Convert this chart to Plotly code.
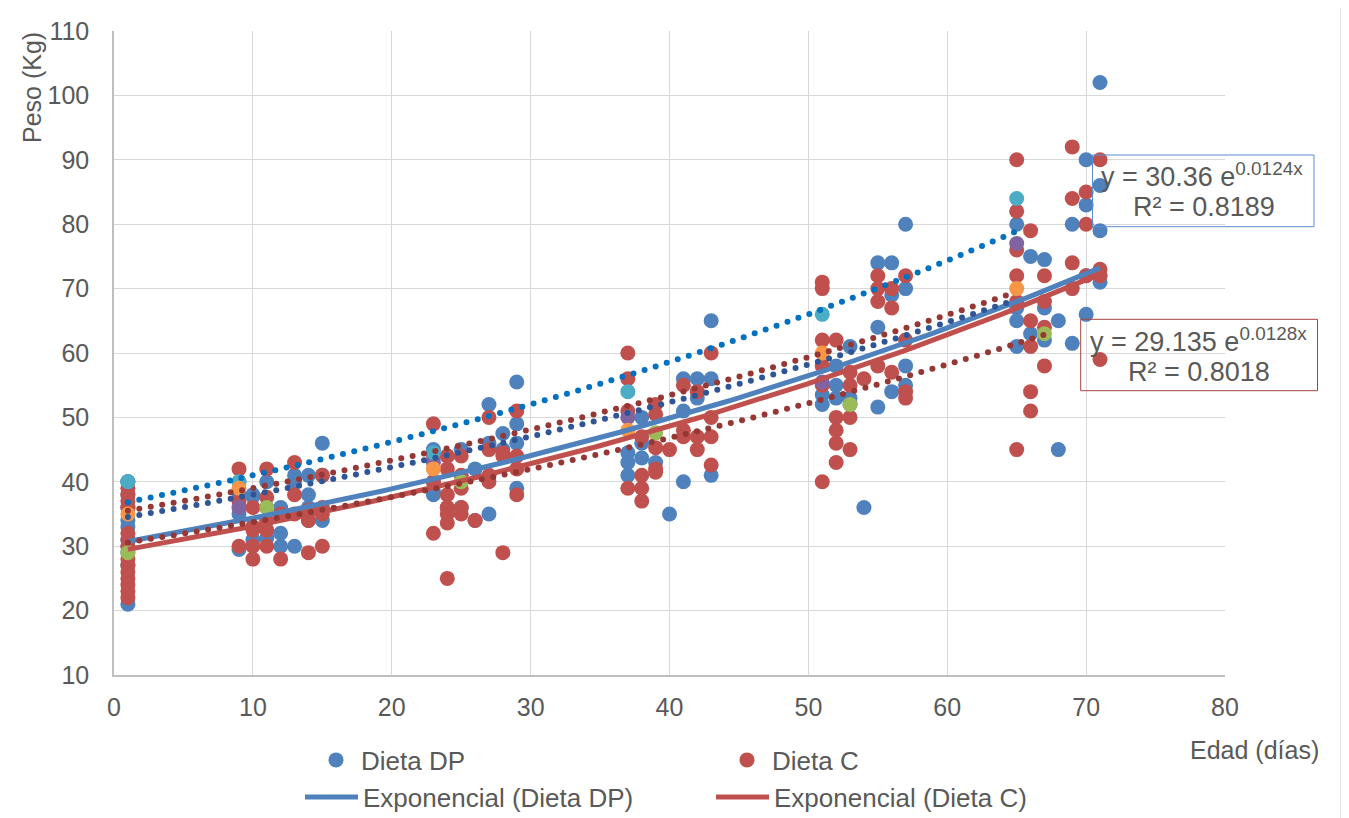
import numpy as np
import plotly.graph_objects as go

# ---------------- data ----------------
days = [1, 9, 10, 11, 12, 13, 14, 15, 23, 24, 25, 26, 27, 28, 29,
        37, 38, 39, 40, 41, 42, 43, 51, 52, 53, 54, 55, 56, 57,
        65, 66, 67, 68, 69, 70, 71]

dieta_dp = [
    [40, 38, 36, 34, 33, 31, 30, 29, 27, 21],
    [40, 38, 35, 29.5],
    [38, 37.7, 33, 31],
    [40, 36, 34, 31.3],
    [36, 32, 30],
    [41, 40, 30],
    [41, 38, 36, 34],
    [46, 41, 34],
    [45, 40, 38.5, 38],
    [44, 36],
    [45, 36],
    [42, 34],
    [52, 46, 35],
    [47.5, 45],
    [55.5, 49, 46, 39],
    [44.5, 43, 41],
    [50, 46, 43.7],
    [43],
    [35],
    [56, 51, 40],
    [56, 53],
    [65, 56, 41],
    [53.5, 52],
    [58, 55, 53],
    [61, 53, 52],
    [36],
    [74, 64, 51.6],
    [74, 69, 54],
    [80, 70, 58, 55],
    [80, 67, 65, 61],
    [75, 63],
    [74.5, 67, 62],
    [65, 45],
    [80, 61.5],
    [90, 83, 72, 66],
    [102, 86, 79, 72, 71],
]

dieta_c = [
    [39, 38, 37, 36, 32, 31, 30, 28, 27, 26, 25, 24, 23, 22],
    [42, 37, 30],
    [36, 33, 32.5, 30, 28],
    [42, 37.6, 34, 32.5, 30],
    [35, 28],
    [43, 38, 35],
    [35.6, 34, 29],
    [41, 36, 35, 30],
    [49, 44, 40, 32],
    [44, 42, 38, 36, 35, 33.6, 25],
    [44, 41, 39, 36, 35],
    [34],
    [50, 45, 41, 40],
    [44.5, 44, 29],
    [51, 44, 42, 38],
    [60, 56, 51, 39],
    [47, 41, 39, 37],
    [52, 50.5, 45.3, 42, 41.5],
    [45],
    [55, 48, 47],
    [54, 47, 45],
    [60, 50, 47, 42.6],
    [71, 70, 62, 58, 55, 40],
    [62, 50, 48, 46, 43],
    [57, 55, 50, 45],
    [56],
    [72, 70, 68, 58],
    [70, 67, 57],
    [72, 62, 54, 53],
    [90, 82, 76, 72, 68, 45],
    [79, 65, 61, 54, 51],
    [72, 68, 64, 58],
    [],
    [92, 84, 74, 70],
    [85, 80, 72],
    [90, 73, 72, 59],
]

# extra (unlabelled) series
extra_days = [1, 9, 23, 37, 51, 65]
purple_y = [40, 36, 43, 50, 55.5, 77]
cyan_y = [40, 40, 44.5, 54, 66, 84]
orange_y = [35, 39, 42, 48, 60, 70]
green_days = [1, 11, 25, 39, 53, 67]
green_y = [29, 36, 40, 47.6, 52, 63]

# displayed trendline equations (y = a e^(b x)) and R²
eq_dp = (30.36, 0.0124, 0.8189)
eq_c = (29.135, 0.0128, 0.8018)

x_ticks = [0, 10, 20, 30, 40, 50, 60, 70, 80]
y_ticks = [10, 20, 30, 40, 50, 60, 70, 80, 90, 100, 110]

# ---------------- geometry ----------------
# page body has an 8px margin: plot area on screen spans x 114..1225, y 31..675
OFF = 8
W, H = 1341, 810
PL, PR, PT, PB = 114, 1225, 31, 675
L = PL - OFF
T = PT - OFF
R = W + OFF - PR
B = H + OFF - PB
pw, ph = PR - PL, PB - PT
X_RANGE = [0, 80]
Y_RANGE = [10, 110]
SX = pw / (X_RANGE[1] - X_RANGE[0])   # px per x unit
SY = ph / (Y_RANGE[1] - Y_RANGE[0])   # px per y unit

def px(xs):
    return (xs - PL) / pw

def py(ys):
    return (PB - ys) / ph

# ---------------- helpers ----------------
def flatten(dlist, vals):
    xs, ys = [], []
    for d, v in zip(dlist, vals):
        for y in v:
            xs.append(d)
            ys.append(y)
    return xs, ys

def exp_fit(xs, ys):
    b, ln_a = np.polyfit(np.array(xs, float), np.log(np.array(ys, float)), 1)
    return np.exp(ln_a), b

def exp_curve(a, b, x0, x1, n=120):
    xx = np.linspace(x0, x1, n)
    return xx, a * np.exp(b * xx)

def dotted_samples(a, b, x0, x1, step_px=11.6):
    # points spaced evenly along the curve in screen pixels (round-dot line style)
    xx, yy = exp_curve(a, b, x0, x1, 2000)
    seg = np.hypot(np.diff(xx) * SX, np.diff(yy) * SY)
    s = np.concatenate([[0], np.cumsum(seg)])
    targets = np.arange(0, s[-1] + 0.01, step_px)
    return np.interp(targets, s, xx), np.interp(targets, s, yy)

BLUE = "#4F81BD"
RED = "#C0504D"
PURPLE = "#8064A2"
CYAN = "#4BACC6"
ORANGE = "#F79646"
GREEN = "#9BBB59"
TXT = "#595959"
FONT = "Liberation Sans, Arial, sans-serif"
MS = 15

fig = go.Figure()

dpx, dpy = flatten(days, dieta_dp)
cx, cy = flatten(days, dieta_c)

fig.add_trace(go.Scatter(x=dpx, y=dpy, mode="markers", name="Dieta DP",
                         marker=dict(color=BLUE, size=MS, line=dict(width=0)),
                         legend="legend"))
fig.add_trace(go.Scatter(x=cx, y=cy, mode="markers", name="Dieta C",
                         marker=dict(color=RED, size=MS, line=dict(width=0)),
                         legend="legend"))
for ys, xs_, col in [(purple_y, extra_days, PURPLE), (cyan_y, extra_days, CYAN),
                     (orange_y, extra_days, ORANGE), (green_y, green_days, GREEN)]:
    fig.add_trace(go.Scatter(x=xs_, y=ys, mode="markers", showlegend=False,
                             marker=dict(color=col, size=MS, line=dict(width=0))))

# solid exponential trendlines from displayed equations
xx, yy = exp_curve(eq_c[0], eq_c[1], min(days), max(days))
fig.add_trace(go.Scatter(x=xx, y=yy, mode="lines", name="Exponencial (Dieta C)",
                         line=dict(color=RED, width=5), legend="legend2", legendrank=2))
xx, yy = exp_curve(eq_dp[0], eq_dp[1], min(days), max(days))
fig.add_trace(go.Scatter(x=xx, y=yy, mode="lines", name="Exponencial (Dieta DP)",
                         line=dict(color=BLUE, width=5), legend="legend2", legendrank=1))

# round-dotted exponential trendlines of the extra series
for xs_, ys, col in [(extra_days, cyan_y, "#0070C0"),
                     (extra_days, orange_y, "#2F5597"),
                     (extra_days, purple_y, "#953735"),
                     (green_days, green_y, "#953735")]:
    a, b = exp_fit(xs_, ys)
    dx, dy = dotted_samples(a, b, min(xs_), max(xs_))
    fig.add_trace(go.Scatter(x=dx, y=dy, mode="markers", showlegend=False,
                             marker=dict(color=col, size=6, line=dict(width=0))))

axis_common = dict(showgrid=True, gridcolor="#D9D9D9", gridwidth=1,
                   zeroline=False, showline=True, linecolor="#BFBFBF", linewidth=1.5,
                   ticks="", tickfont=dict(size=25, color=TXT, family=FONT))

fig.update_layout(
    width=W, height=H,
    margin=dict(l=L, r=R, t=T, b=B, autoexpand=False),
    paper_bgcolor="white", plot_bgcolor="white",
    font=dict(family=FONT, color=TXT),
    xaxis=dict(range=X_RANGE, tickvals=x_ticks, ticklabelstandoff=9, **axis_common),
    yaxis=dict(range=Y_RANGE, tickvals=y_ticks, ticklabelstandoff=18, **axis_common),
    legend=dict(orientation="h", x=px(311), y=py(760), xanchor="left", yanchor="middle",
                itemwidth=40, entrywidth=356, entrywidthmode="pixels",
                font=dict(size=26, color=TXT, family=FONT), bgcolor="rgba(0,0,0,0)"),
    legend2=dict(orientation="h", x=px(300), y=py(797), xanchor="left", yanchor="middle",
                 itemwidth=53, entrywidth=343, entrywidthmode="pixels",
                 traceorder="normal",
                 font=dict(size=26, color=TXT, family=FONT), bgcolor="rgba(0,0,0,0)"),
    showlegend=True,
)

# axis titles
fig.add_annotation(text="Peso (Kg)", xref="paper", yref="paper", x=px(32), y=py(88),
                   textangle=-90, showarrow=False, xanchor="center", yanchor="middle",
                   font=dict(size=25, color=TXT, family=FONT))
fig.add_annotation(text="Edad (días)", xref="paper", yref="paper", x=px(1254), y=py(750),
                   showarrow=False, xanchor="center", yanchor="middle",
                   font=dict(size=25, color=TXT, family=FONT))

# equation boxes
fig.add_shape(type="rect", xref="paper", yref="paper", x0=px(1092.5), x1=px(1314),
              y0=py(226.7), y1=py(155), line=dict(color="#5B8ED0", width=1))
fig.add_shape(type="rect", xref="paper", yref="paper", x0=px(1080.7), x1=px(1317.5),
              y0=py(390.7), y1=py(319.3), line=dict(color="#A5433F", width=1))

EQF = dict(size=27, color=TXT, family=FONT)
fig.add_annotation(text=f"y = {eq_dp[0]} e<sup>{eq_dp[1]}x</sup>", xref="paper", yref="paper",
                   x=px(1202), y=py(175), showarrow=False, xanchor="center", yanchor="middle", font=EQF)
fig.add_annotation(text=f"R² = {eq_dp[2]}", xref="paper", yref="paper",
                   x=px(1204), y=py(206.7), showarrow=False, xanchor="center", yanchor="middle", font=EQF)
fig.add_annotation(text=f"y = {eq_c[0]} e<sup>{eq_c[1]}x</sup>", xref="paper", yref="paper",
                   x=px(1198), y=py(340), showarrow=False, xanchor="center", yanchor="middle", font=EQF)
fig.add_annotation(text=f"R² = {eq_c[2]}", xref="paper", yref="paper",
                   x=px(1199), y=py(371.7), showarrow=False, xanchor="center", yanchor="middle", font=EQF)

# outer chart border
fig.add_shape(type="rect", xref="paper", yref="paper", x0=px(7), x1=px(1341),
              y0=py(830), y1=py(7), line=dict(color="#D9D9D9", width=1.5))

fig.write_html("out.html")
